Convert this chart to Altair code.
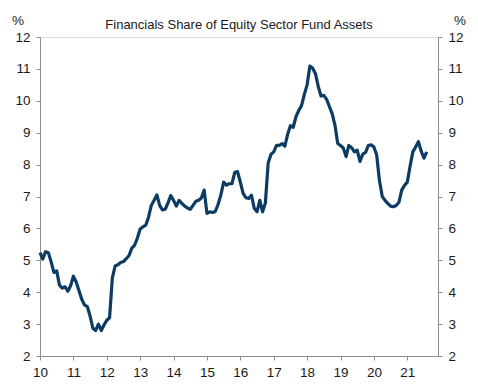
import altair as alt
import pandas as pd

# Monthly data, Jan 2010 onwards (axis in 2-digit years)
start_year = 10
values = [
    5.24, 5.04, 5.27, 5.24, 4.95, 4.62, 4.67, 4.22, 4.13, 4.17, 4.03, 4.20,
    4.50, 4.32, 4.05, 3.78, 3.60, 3.55, 3.25, 2.87, 2.80, 3.00, 2.80, 2.97,
    3.12, 3.20, 4.45, 4.82, 4.86, 4.93, 4.96, 5.05, 5.15, 5.38, 5.47, 5.70,
    5.98, 6.05, 6.10, 6.35, 6.72, 6.88, 7.05, 6.72, 6.58, 6.60, 6.80, 7.03,
    6.88, 6.70, 6.88, 6.78, 6.70, 6.64, 6.60, 6.72, 6.85, 6.88, 6.95, 7.20,
    6.47, 6.52, 6.50, 6.53, 6.75, 7.05, 7.45, 7.36, 7.40, 7.40, 7.76, 7.78,
    7.45, 7.10, 6.96, 6.94, 7.04, 6.63, 6.52, 6.88, 6.52, 6.80, 8.05, 8.32,
    8.40, 8.60, 8.60, 8.66, 8.58, 8.95, 9.22, 9.17, 9.50, 9.70, 9.85, 10.20,
    10.50, 11.09, 11.02, 10.85, 10.45, 10.15, 10.17, 10.05, 9.82, 9.60, 9.24, 8.66,
    8.60, 8.52, 8.25, 8.60, 8.53, 8.40, 8.45, 8.10, 8.33, 8.38, 8.60, 8.62,
    8.55, 8.30, 7.50, 7.00, 6.88, 6.78, 6.70, 6.68, 6.72, 6.82, 7.20, 7.35,
    7.45, 7.95, 8.40, 8.55, 8.72, 8.42, 8.20, 8.40,
]
x_ticks = list(range(10, 22))
y_ticks = list(range(2, 13))
title_text = "Financials Share of Equity Sector Fund Assets"
unit_text = "%"

df = pd.DataFrame({
    "t": [start_year + i / 12 for i in range(len(values))],
    "v": values,
})

FONT = "Liberation Sans"
AXIS_GRAY = "#8c8c8c"
LINE_COLOR = "#0c3b63"
FS = 13.5

x_enc = alt.X(
    "t:Q",
    scale=alt.Scale(domain=[10, 21.92], nice=False, zero=False),
    axis=alt.Axis(values=x_ticks, format="d", title=None, grid=False,
                  domainColor=AXIS_GRAY, tickColor=AXIS_GRAY, tickSize=4,
                  labelPadding=5, labelFont=FONT, labelFontSize=FS,
                  labelFlush=False, labelOverlap=False,
                  labelColor="#1a1a1a"),
)
yscale = alt.Scale(domain=[2, 12], nice=False, zero=False)

def yaxis(orient):
    return alt.Axis(values=y_ticks, format="d", title=None, grid=False,
                    orient=orient, domainColor=AXIS_GRAY, tickColor=AXIS_GRAY,
                    tickSize=4, labelPadding=6, labelFont=FONT,
                    labelFlush=False, labelOverlap=False,
                    labelFontSize=FS, labelColor="#1a1a1a")

line = alt.Chart(df).mark_line(color=LINE_COLOR, strokeWidth=3.2,
                               strokeJoin="round").encode(
    x=x_enc, y=alt.Y("v:Q", scale=yscale, axis=yaxis("left"))
)
right = alt.Chart(df).mark_line(strokeOpacity=0).encode(
    x=x_enc, y=alt.Y("v:Q", scale=yscale, axis=yaxis("right"))
)

lab = pd.DataFrame({"s": [title_text]})
title = alt.Chart(lab).mark_text(font=FONT, fontSize=13, color="#1a1a1a",
                                 align="center", baseline="middle").encode(
    text="s:N", x=alt.value(199), y=alt.value(-12))
pct = pd.DataFrame({"s": [unit_text]})
pct_l = alt.Chart(pct).mark_text(font=FONT, fontSize=FS, color="#1a1a1a",
                                 align="center", baseline="middle").encode(
    text="s:N", x=alt.value(-22), y=alt.value(-16))
pct_r = alt.Chart(pct).mark_text(font=FONT, fontSize=FS, color="#1a1a1a",
                                 align="center", baseline="middle").encode(
    text="s:N", x=alt.value(420), y=alt.value(-16))

chart = alt.layer(line, right, title, pct_l, pct_r).resolve_scale(
    y="independent"
).properties(
    width=398, height=319,
    autosize=alt.AutoSizeParams(type="none"),
    padding={"left": 32, "top": 29, "right": 32, "bottom": 28},
).configure_view(stroke=None).configure(background="white")

chart.save("out.html", embed_options={"renderer": "svg", "actions": False})
